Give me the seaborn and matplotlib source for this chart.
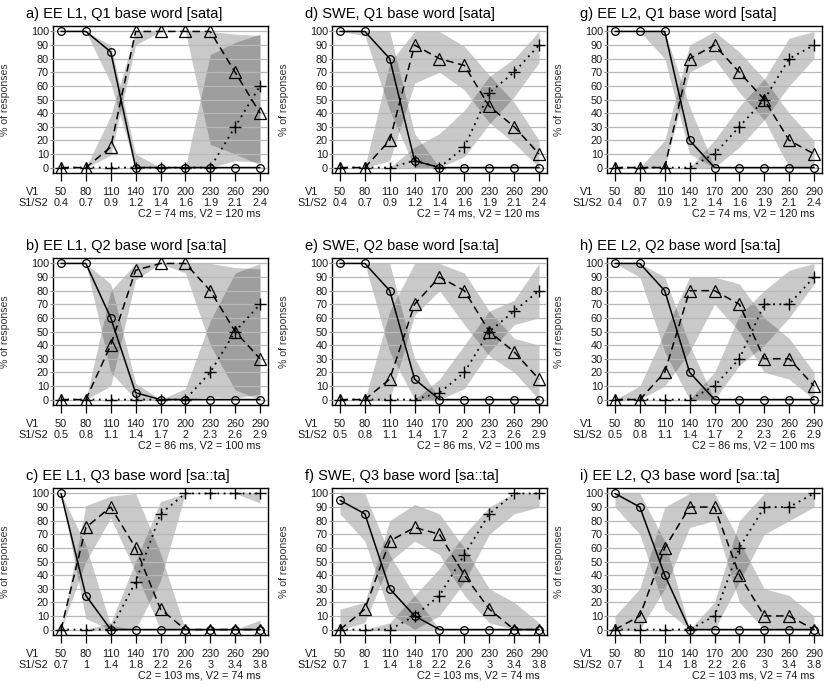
import numpy as np
import matplotlib
matplotlib.use('Agg')
import matplotlib.pyplot as plt
import matplotlib.transforms as mtransforms
import seaborn as sns

# --- x axis labels (shared) ---
V1 = [50, 80, 110, 140, 170, 200, 230, 260, 290]
S1S2_Q1 = ['0.4', '0.7', '0.9', '1.2', '1.4', '1.6', '1.9', '2.1', '2.4']
S1S2_Q2 = ['0.5', '0.8', '1.1', '1.4', '1.7', '2', '2.3', '2.6', '2.9']
S1S2_Q3 = ['0.7', '1', '1.4', '1.8', '2.2', '2.6', '3', '3.4', '3.8']
NOTE_Q1 = 'C2 = 74 ms, V2 = 120 ms'
NOTE_Q2 = 'C2 = 86 ms, V2 = 100 ms'
NOTE_Q3 = 'C2 = 103 ms, V2 = 74 ms'

# --- a) EE L1, Q1 ---
a_o = [100, 100, 85, 0, 0, 0, 0, 0, 0]
a_tri = [0, 0, 15, 100, 100, 100, 100, 70, 40]
a_plus = [0, 0, 0, 0, 0, 0, 0, 30, 60]
a_o_band = [(100, 100), (100, 100), (62, 90), (0, 10), (0, 0), (0, 0), (0, 0), (0, 0), (0, 0)]
a_tri_band = [(0, 0), (0, 0), (9, 38), (90, 100), (100, 100), (100, 100), (17, 100), (10, 98), (2, 97)]
a_plus_band = [(0, 0), (0, 0), (0, 0), (0, 0), (0, 0), (0, 0), (0, 83), (5, 92), (4, 98)]

# --- b) EE L1, Q2 ---
b_o = [100, 100, 60, 5, 0, 0, 0, 0, 0]
b_tri = [0, 0, 40, 95, 100, 100, 80, 50, 30]
b_plus = [0, 0, 0, 0, 0, 0, 20, 50, 70]
b_o_band = [(100, 100), (100, 100), (20, 85), (0, 12), (0, 0), (0, 0), (0, 0), (0, 0), (0, 0)]
b_tri_band = [(0, 0), (0, 0), (10, 80), (88, 100), (100, 100), (93, 100), (40, 100), (7, 97), (0, 96)]
b_plus_band = [(0, 0), (0, 0), (0, 0), (0, 0), (0, 0), (0, 8), (2, 58), (1, 93), (4, 100)]

# --- c) EE L1, Q3 ---
c_o = [100, 25, 0, 0, 0, 0, 0, 0, 0]
c_tri = [0, 75, 90, 60, 15, 0, 0, 0, 0]
c_plus = [0, 0, 0, 35, 85, 100, 100, 100, 100]
c_o_band = [(100, 100), (8, 62), (0, 3), (0, 0), (0, 0), (0, 0), (0, 0), (0, 0), (0, 0)]
c_tri_band = [(0, 0), (50, 91), (82, 98), (42, 100), (0, 56), (0, 0), (0, 0), (0, 0), (0, 7)]
c_plus_band = [(0, 0), (0, 0), (0, 5), (0, 50), (36, 94), (100, 100), (100, 100), (100, 100), (93, 100)]

# --- d) SWE, Q1 ---
d_o = [100, 100, 80, 5, 0, 0, 0, 0, 0]
d_tri = [0, 0, 20, 90, 80, 75, 45, 30, 10]
d_plus = [0, 0, 0, 5, 0, 15, 55, 70, 90]
d_o_band = [(100, 100), (97, 100), (42, 100), (0, 25), (0, 0), (0, 0), (0, 0), (0, 0), (0, 0)]
d_tri_band = [(0, 0), (0, 0), (5, 77), (62, 100), (70, 100), (57, 89), (33, 68), (18, 48), (0, 20)]
d_plus_band = [(0, 0), (0, 0), (0, 0), (0, 15), (0, 25), (8, 42), (32, 67), (52, 80), (77, 100)]

# --- e) SWE, Q2 ---
e_o = [100, 100, 80, 15, 0, 0, 0, 0, 0]
e_tri = [0, 0, 15, 70, 90, 80, 50, 35, 15]
e_plus = [0, 0, 0, 0, 5, 20, 50, 65, 80]
e_o_band = [(100, 100), (100, 100), (35, 100), (0, 30), (0, 0), (0, 0), (0, 0), (0, 0), (0, 0)]
e_tri_band = [(0, 0), (0, 0), (0, 65), (62, 100), (80, 100), (55, 93), (32, 65), (20, 45), (0, 40)]
e_plus_band = [(0, 0), (0, 0), (0, 0), (0, 0), (0, 15), (8, 40), (35, 65), (55, 73), (60, 100)]

# --- f) SWE, Q3 ---
f_o = [95, 85, 30, 10, 0, 0, 0, 0, 0]
f_tri = [0, 15, 65, 75, 70, 40, 15, 0, 0]
f_plus = [0, 0, 0, 10, 25, 55, 85, 100, 100]
f_o_band = [(85, 100), (65, 100), (12, 55), (0, 25), (0, 0), (0, 0), (0, 0), (0, 0), (0, 0)]
f_tri_band = [(0, 15), (5, 20), (50, 80), (65, 92), (55, 85), (25, 60), (5, 30), (0, 20), (0, 5)]
f_plus_band = [(0, 0), (0, 0), (0, 5), (0, 25), (10, 45), (35, 70), (70, 90), (85, 100), (90, 100)]

# --- g) EE L2, Q1 ---
g_o = [100, 100, 100, 20, 0, 0, 0, 0, 0]
g_tri = [0, 0, 0, 80, 90, 70, 50, 20, 10]
g_plus = [0, 0, 0, 0, 10, 30, 50, 80, 90]
g_o_band = [(100, 100), (100, 100), (80, 100), (10, 45), (0, 0), (0, 0), (0, 0), (0, 0), (0, 0)]
g_tri_band = [(0, 0), (0, 0), (0, 20), (70, 90), (80, 100), (55, 85), (35, 65), (0, 40), (0, 20)]
g_plus_band = [(0, 0), (0, 0), (0, 0), (0, 0), (0, 20), (15, 45), (35, 65), (60, 95), (80, 100)]

# --- h) EE L2, Q2 ---
h_o = [100, 100, 80, 20, 0, 0, 0, 0, 0]
h_tri = [0, 0, 20, 80, 80, 70, 30, 30, 10]
h_plus = [0, 0, 0, 0, 10, 30, 70, 70, 90]
h_o_band = [(100, 100), (90, 100), (35, 90), (0, 40), (0, 0), (0, 0), (0, 0), (0, 0), (0, 0)]
h_tri_band = [(0, 0), (0, 10), (10, 50), (35, 90), (70, 90), (50, 85), (20, 60), (15, 45), (0, 20)]
h_plus_band = [(0, 0), (0, 0), (0, 0), (0, 0), (0, 20), (25, 62), (40, 80), (60, 95), (85, 100)]

# --- i) EE L2, Q3 ---
i_o = [100, 90, 40, 0, 0, 0, 0, 0, 0]
i_tri = [0, 10, 60, 90, 90, 40, 10, 10, 0]
i_plus = [0, 0, 0, 0, 10, 60, 90, 90, 100]
i_o_band = [(90, 100), (70, 100), (15, 65), (0, 0), (0, 0), (0, 0), (0, 0), (0, 0), (0, 0)]
i_tri_band = [(0, 10), (0, 30), (30, 90), (75, 100), (80, 100), (20, 65), (0, 30), (0, 25), (0, 10)]
i_plus_band = [(0, 0), (0, 0), (0, 0), (0, 0), (0, 20), (35, 80), (70, 100), (80, 100), (90, 100)]

PANELS = [
    # (row, col, title, circles, triangles, pluses, bands..., S1/S2, note)
    (0, 0, 'a) EE L1, Q1 base word [sata]', a_o, a_tri, a_plus, a_o_band, a_tri_band, a_plus_band, S1S2_Q1, NOTE_Q1),
    (1, 0, 'b) EE L1, Q2 base word [sa:ta]', b_o, b_tri, b_plus, b_o_band, b_tri_band, b_plus_band, S1S2_Q2, NOTE_Q2),
    (2, 0, 'c) EE L1, Q3 base word [sa::ta]', c_o, c_tri, c_plus, c_o_band, c_tri_band, c_plus_band, S1S2_Q3, NOTE_Q3),
    (0, 1, 'd) SWE, Q1 base word [sata]', d_o, d_tri, d_plus, d_o_band, d_tri_band, d_plus_band, S1S2_Q1, NOTE_Q1),
    (1, 1, 'e) SWE, Q2 base word [sa:ta]', e_o, e_tri, e_plus, e_o_band, e_tri_band, e_plus_band, S1S2_Q2, NOTE_Q2),
    (2, 1, 'f) SWE, Q3 base word [sa::ta]', f_o, f_tri, f_plus, f_o_band, f_tri_band, f_plus_band, S1S2_Q3, NOTE_Q3),
    (0, 2, 'g) EE L2, Q1 base word [sata]', g_o, g_tri, g_plus, g_o_band, g_tri_band, g_plus_band, S1S2_Q1, NOTE_Q1),
    (1, 2, 'h) EE L2, Q2 base word [sa:ta]', h_o, h_tri, h_plus, h_o_band, h_tri_band, h_plus_band, S1S2_Q2, NOTE_Q2),
    (2, 2, 'i) EE L2, Q3 base word [sa::ta]', i_o, i_tri, i_plus, i_o_band, i_tri_band, i_plus_band, S1S2_Q3, NOTE_Q3),
]

sns.set_theme(style='white')
plt.rcParams['font.family'] = ['Liberation Sans', 'DejaVu Sans']

W, H = 826, 688
fig = plt.figure(figsize=(W / 100, H / 100), dpi=100)
COL_LEFT = [53, 332, 607]
ROW_TOP = [26, 258, 488]
AX_W, AX_H = 215, 147

TICK_FS = 7.8
TXT = '#1a1a1a'
idx = np.arange(len(V1))

for row, col, title, o, tri, plus, o_band, tri_band, plus_band, s12, note in PANELS:
    left = COL_LEFT[col] / W
    bottom = 1 - (ROW_TOP[row] + AX_H) / H
    ax = fig.add_axes([left, bottom, AX_W / W, AX_H / H])

    # confidence bands (overlaps get darker)
    for band in (o_band, tri_band, plus_band):
        lo = [b[0] for b in band]
        hi = [b[1] for b in band]
        ax.fill_between(idx, lo, hi, color='black', alpha=0.21, linewidth=0, zorder=1)

    # the three response curves
    sns.lineplot(x=idx, y=o, ax=ax, color='black', lw=1.1, marker='o', ms=5.5,
                 markerfacecolor='none', mec='black', mew=0.9, zorder=3)
    sns.lineplot(x=idx, y=tri, ax=ax, color='black', lw=1.1, linestyle=(0, (5, 3)),
                 marker='^', ms=8.5, markerfacecolor='none', mec='black', mew=0.9, zorder=3)
    sns.lineplot(x=idx, y=plus, ax=ax, color='black', lw=1.3, linestyle=(0, (1, 2.5)),
                 marker='+', ms=8.5, mec='black', mew=1.0, zorder=3)

    ax.set_xlim(-0.32, 8.32)
    ax.set_ylim(-4, 104)
    ax.set_yticks(range(0, 101, 10))
    ax.set_xticks(idx)
    ax.set_xticklabels([])
    ax.set_axisbelow(False)
    ax.grid(axis='y', color='#b8b8b8', lw=0.9, zorder=2)
    ax.grid(axis='x', visible=False)
    ax.tick_params(axis='x', bottom=True, direction='out', length=6, width=0.9, color='black')
    ax.tick_params(axis='y', left=True, direction='out', length=2, width=0.8, color='#888888',
                   pad=1, labelsize=TICK_FS, labelcolor=TXT)
    for sp in ax.spines.values():
        sp.set_visible(True)
        sp.set_color('black')
        sp.set_linewidth(1.0)

    ax.set_ylabel('% of responses', fontsize=7.6, color='#333333')
    ax.yaxis.set_label_coords(-0.2, 0.5)

    # two-row x labels under the axis
    trans = mtransforms.blended_transform_factory(ax.transData, ax.transAxes)
    for i in idx:
        ax.text(i, -0.13, str(V1[i]), transform=trans, ha='center', va='center',
                fontsize=TICK_FS, color=TXT)
        ax.text(i, -0.205, s12[i], transform=trans, ha='center', va='center',
                fontsize=TICK_FS, color=TXT)
    ax.text(-0.093, -0.13, 'V1', transform=ax.transAxes, ha='center', va='center',
            fontsize=TICK_FS, color=TXT)
    ax.text(-0.093, -0.205, 'S1/S2', transform=ax.transAxes, ha='center', va='center',
            fontsize=TICK_FS, color=TXT)
    ax.text(0.965, -0.275, note, transform=ax.transAxes, ha='right', va='center',
            fontsize=TICK_FS, color=TXT)

    ax.text(-0.126, 1.054, title, transform=ax.transAxes, ha='left', va='baseline',
            fontsize=10.5, color='black')

fig.savefig('out.png', dpi=100)
